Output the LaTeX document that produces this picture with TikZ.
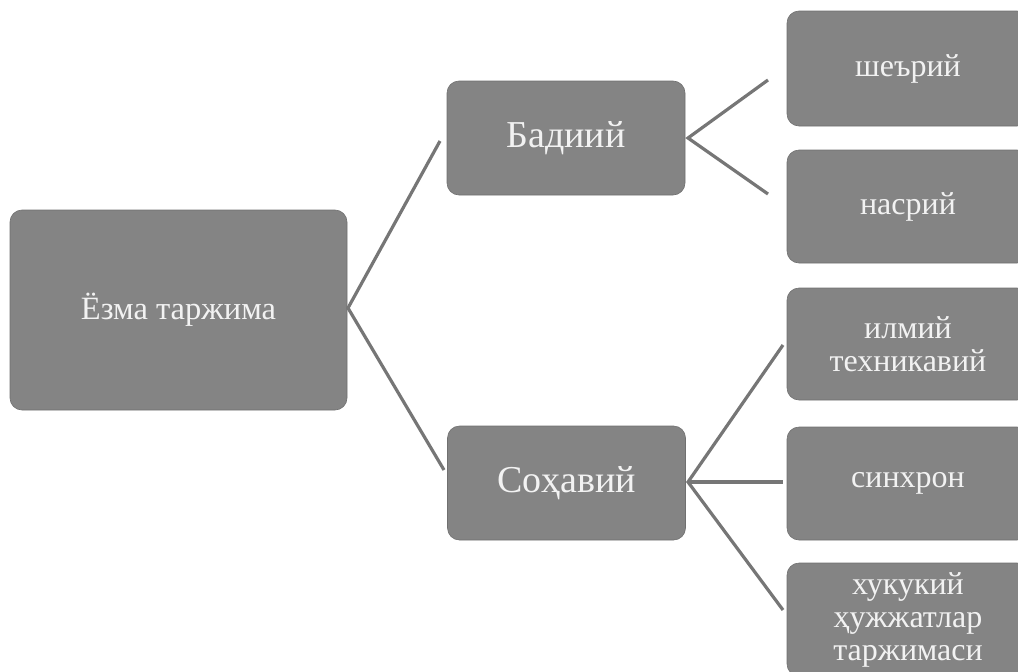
\documentclass[tikz,border=0pt]{standalone}
\usepackage{fontspec}
\setmainfont{Liberation Serif}
\definecolor{boxgray}{RGB}{132,132,132}
\definecolor{boxtext}{RGB}{242,242,242}
\definecolor{linkgray}{RGB}{118,118,118}
\begin{document}
\begin{tikzpicture}[x=1pt,y=-1pt,
  box/.style={rectangle, draw=boxgray!85!black, line width=0.6pt, fill=boxgray, rounded corners=12pt,
    text=boxtext, align=center, inner sep=0pt},
  smallbox/.style={box, minimum width=242pt, minimum height=113pt, font=\fontsize{32}{33}\selectfont},
  midbox/.style={box, minimum width=238pt, minimum height=114pt, font=\fontsize{38}{40}\selectfont},
  link/.style={draw=linkgray, line width=3.2pt}]
\useasboundingbox (0,0) rectangle (1018,672);
\clip (0,0) rectangle (1018,672);

\node[box, minimum width=337pt, minimum height=200pt, font=\fontsize{32.5}{34}\selectfont] (yozma) at (178.5,310) {Ёзма таржима};
\node[midbox] (badiiy) at (566,138) {Бадиий};
\node[midbox] (sohaviy) at (566.5,483) {Соҳавий};

\node[smallbox, minimum height=115pt] (sheriy) at (908,68.5) {шеърий};
\node[smallbox] (nasriy) at (908,206.5) {насрий};
\node[smallbox, minimum height=112pt] (ilmiy) at (908,344) {илмий\\техникавий};
\node[smallbox] (sinxron) at (908,483.5) {синхрон};
\node[smallbox] (huquqiy) at (908,619.5) {хукукий\\ҳужжатлар\\таржимаси};

\coordinate (ya) at (348,308);
\coordinate (y1) at (440,141);
\coordinate (y2) at (444,470);
\coordinate (ba) at (688,138);
\coordinate (b1) at (768,80);
\coordinate (b2) at (768,194);
\coordinate (sa) at (688,482);
\coordinate (s1) at (783,345);
\coordinate (s2) at (783,482);
\coordinate (s3) at (783,610);

\draw[link] (y1) -- (ya) -- (y2);
\draw[link] (b1) -- (ba) -- (b2);
\draw[link] (s1) -- (sa) -- (s3);
\draw[link] (sa) -- (s2);
\end{tikzpicture}
\end{document}
